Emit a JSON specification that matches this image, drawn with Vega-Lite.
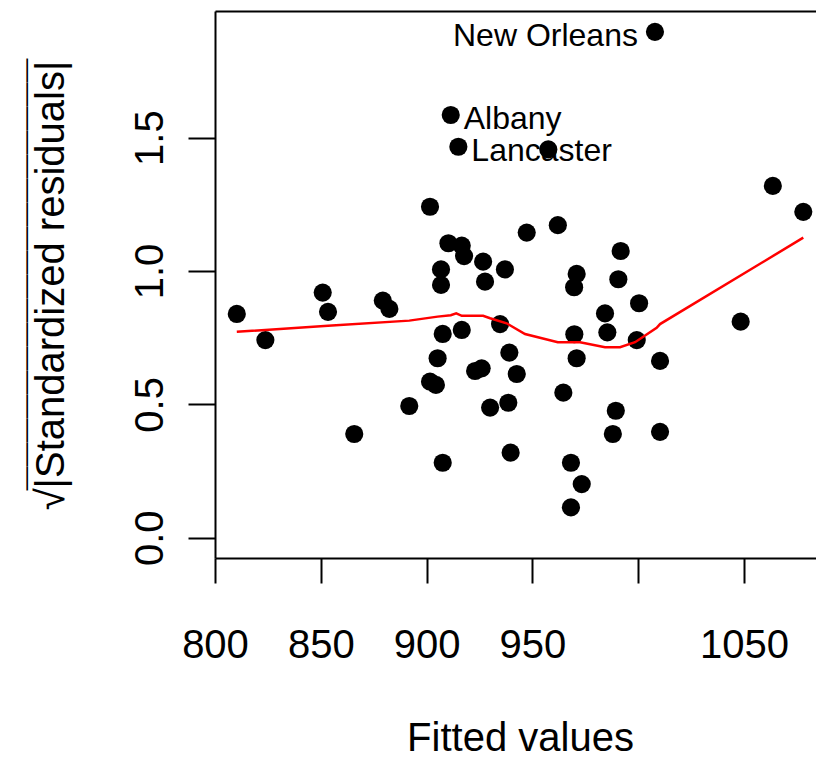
{
  "$schema": "https://vega.github.io/schema/vega-lite/v6.json",
  "width": 601,
  "height": 547,
  "autosize": {"type": "none"},
  "padding": {"left": 215, "top": 11, "right": 0, "bottom": 200},
  "background": "white",
  "config": {
    "view": {"stroke": null},
    "font": "Liberation Sans",
    "axis": {
      "grid": false,
      "domainColor": "black",
      "domainWidth": 2,
      "tickColor": "black",
      "tickWidth": 2,
      "labelColor": "black",
      "labelFont": "Liberation Sans",
      "labelFontSize": 40,
      "titleFont": "Liberation Sans",
      "titleFontSize": 40,
      "titleFontWeight": "normal",
      "titleColor": "black",
      "labelOverlap": false,
      "labelFlush": false
    }
  },
  "title": {
    "text": "——————————————————",
    "orient": "left",
    "frame": "group",
    "anchor": "middle",
    "font": "Liberation Sans",
    "fontSize": 24,
    "fontWeight": "normal",
    "color": "black",
    "baseline": "alphabetic",
    "offset": -26,
    "dx": 10
  },
  "datasets": {
    "points": [
      {"fitted": 810.3, "sqrt_abs_std_resid": 0.839, "label": null},
      {"fitted": 823.8, "sqrt_abs_std_resid": 0.741, "label": null},
      {"fitted": 850.9, "sqrt_abs_std_resid": 0.919, "label": null},
      {"fitted": 853.4, "sqrt_abs_std_resid": 0.847, "label": null},
      {"fitted": 865.8, "sqrt_abs_std_resid": 0.389, "label": null},
      {"fitted": 879.3, "sqrt_abs_std_resid": 0.889, "label": null},
      {"fitted": 882.4, "sqrt_abs_std_resid": 0.858, "label": null},
      {"fitted": 891.8, "sqrt_abs_std_resid": 0.494, "label": null},
      {"fitted": 901.6, "sqrt_abs_std_resid": 1.241, "label": null},
      {"fitted": 901.6, "sqrt_abs_std_resid": 0.585, "label": null},
      {"fitted": 904.4, "sqrt_abs_std_resid": 0.573, "label": null},
      {"fitted": 905.2, "sqrt_abs_std_resid": 0.673, "label": null},
      {"fitted": 906.8, "sqrt_abs_std_resid": 1.006, "label": null},
      {"fitted": 906.8, "sqrt_abs_std_resid": 0.948, "label": null},
      {"fitted": 907.6, "sqrt_abs_std_resid": 0.764, "label": null},
      {"fitted": 907.6, "sqrt_abs_std_resid": 0.281, "label": null},
      {"fitted": 910.3, "sqrt_abs_std_resid": 1.104, "label": null},
      {"fitted": 911.4, "sqrt_abs_std_resid": 1.585, "label": "Albany"},
      {"fitted": 915.0, "sqrt_abs_std_resid": 1.466, "label": "Lancaster"},
      {"fitted": 916.6, "sqrt_abs_std_resid": 1.095, "label": null},
      {"fitted": 917.7, "sqrt_abs_std_resid": 1.056, "label": null},
      {"fitted": 916.6, "sqrt_abs_std_resid": 0.779, "label": null},
      {"fitted": 922.9, "sqrt_abs_std_resid": 0.625, "label": null},
      {"fitted": 926.0, "sqrt_abs_std_resid": 0.635, "label": null},
      {"fitted": 926.7, "sqrt_abs_std_resid": 1.035, "label": null},
      {"fitted": 927.6, "sqrt_abs_std_resid": 0.960, "label": null},
      {"fitted": 930.0, "sqrt_abs_std_resid": 0.488, "label": null},
      {"fitted": 934.7, "sqrt_abs_std_resid": 0.801, "label": null},
      {"fitted": 937.0, "sqrt_abs_std_resid": 1.006, "label": null},
      {"fitted": 939.1, "sqrt_abs_std_resid": 0.694, "label": null},
      {"fitted": 938.6, "sqrt_abs_std_resid": 0.506, "label": null},
      {"fitted": 939.7, "sqrt_abs_std_resid": 0.319, "label": null},
      {"fitted": 942.6, "sqrt_abs_std_resid": 0.614, "label": null},
      {"fitted": 947.3, "sqrt_abs_std_resid": 1.144, "label": null},
      {"fitted": 957.5, "sqrt_abs_std_resid": 1.456, "label": null},
      {"fitted": 962.0, "sqrt_abs_std_resid": 1.172, "label": null},
      {"fitted": 964.6, "sqrt_abs_std_resid": 0.544, "label": null},
      {"fitted": 968.2, "sqrt_abs_std_resid": 0.281, "label": null},
      {"fitted": 968.2, "sqrt_abs_std_resid": 0.114, "label": null},
      {"fitted": 969.7, "sqrt_abs_std_resid": 0.939, "label": null},
      {"fitted": 969.8, "sqrt_abs_std_resid": 0.763, "label": null},
      {"fitted": 970.9, "sqrt_abs_std_resid": 0.989, "label": null},
      {"fitted": 970.9, "sqrt_abs_std_resid": 0.673, "label": null},
      {"fitted": 973.3, "sqrt_abs_std_resid": 0.201, "label": null},
      {"fitted": 984.3, "sqrt_abs_std_resid": 0.841, "label": null},
      {"fitted": 985.4, "sqrt_abs_std_resid": 0.770, "label": null},
      {"fitted": 988.0, "sqrt_abs_std_resid": 0.389, "label": null},
      {"fitted": 989.4, "sqrt_abs_std_resid": 0.476, "label": null},
      {"fitted": 990.6, "sqrt_abs_std_resid": 0.969, "label": null},
      {"fitted": 991.7, "sqrt_abs_std_resid": 1.075, "label": null},
      {"fitted": 999.3, "sqrt_abs_std_resid": 0.741, "label": null},
      {"fitted": 1000.4, "sqrt_abs_std_resid": 0.879, "label": null},
      {"fitted": 1007.9, "sqrt_abs_std_resid": 1.897, "label": "New Orleans"},
      {"fitted": 1010.3, "sqrt_abs_std_resid": 0.663, "label": null},
      {"fitted": 1010.3, "sqrt_abs_std_resid": 0.397, "label": null},
      {"fitted": 1048.4, "sqrt_abs_std_resid": 0.810, "label": null},
      {"fitted": 1063.6, "sqrt_abs_std_resid": 1.319, "label": null},
      {"fitted": 1078.0, "sqrt_abs_std_resid": 1.222, "label": null}
    ],
    "smooth": [
      {"fitted": 810.3, "sqrt_abs_std_resid": 0.772},
      {"fitted": 853.4, "sqrt_abs_std_resid": 0.795},
      {"fitted": 891.8, "sqrt_abs_std_resid": 0.814},
      {"fitted": 905.2, "sqrt_abs_std_resid": 0.829},
      {"fitted": 911.4, "sqrt_abs_std_resid": 0.834},
      {"fitted": 914.0, "sqrt_abs_std_resid": 0.841},
      {"fitted": 916.6, "sqrt_abs_std_resid": 0.832},
      {"fitted": 926.7, "sqrt_abs_std_resid": 0.832},
      {"fitted": 930.0, "sqrt_abs_std_resid": 0.823},
      {"fitted": 937.8, "sqrt_abs_std_resid": 0.804},
      {"fitted": 946.5, "sqrt_abs_std_resid": 0.764},
      {"fitted": 962.0, "sqrt_abs_std_resid": 0.733},
      {"fitted": 972.5, "sqrt_abs_std_resid": 0.733},
      {"fitted": 984.3, "sqrt_abs_std_resid": 0.714},
      {"fitted": 991.4, "sqrt_abs_std_resid": 0.714},
      {"fitted": 998.5, "sqrt_abs_std_resid": 0.733},
      {"fitted": 1008.7, "sqrt_abs_std_resid": 0.787},
      {"fitted": 1010.3, "sqrt_abs_std_resid": 0.801},
      {"fitted": 1078.0, "sqrt_abs_std_resid": 1.125}
    ]
  },
  "resolve": {"axis": {"x": "independent", "y": "independent"}},
  "layer": [
    {
      "data": {"name": "points"},
      "mark": {"type": "circle", "color": "black", "opacity": 1, "size": 330, "strokeWidth": 0},
      "encoding": {
        "x": {
          "field": "fitted", "type": "quantitative",
          "scale": {"domain": [800, 1084], "nice": false, "zero": false},
          "axis": {
            "orient": "bottom",
            "values": [800, 850, 900, 950, 1000, 1050],
            "labelExpr": "datum.value == 1000 ? '' : datum.label",
            "format": "d",
            "tickSize": 25,
            "labelPadding": 42,
            "labelBaseline": "top",
            "labelAlign": "center",
            "title": "Fitted values",
            "titleX": 305,
            "titleY": 192,
            "titleBaseline": "alphabetic",
            "titleAlign": "center"
          }
        },
        "y": {
          "field": "sqrt_abs_std_resid", "type": "quantitative",
          "scale": {"domain": [-0.0761, 1.975], "nice": false, "zero": false},
          "axis": {
            "orient": "left",
            "values": [0, 0.5, 1, 1.5],
            "format": ".1f",
            "tickSize": 27,
            "labelPadding": 26,
            "labelAngle": -90,
            "labelAlign": "center",
            "labelBaseline": "alphabetic",
            "title": "√|Standardized residuals|",
            "titleAngle": -90,
            "titleX": -152,
            "titleY": 274,
            "titleAlign": "center",
            "titleBaseline": "alphabetic"
          }
        }
      }
    },
    {
      "data": {"name": "points"},
      "transform": [{"filter": "datum.label == 'Albany' || datum.label == 'Lancaster'"}],
      "mark": {"type": "text", "align": "left", "baseline": "middle", "dx": 13, "dy": 4, "font": "Liberation Sans", "fontSize": 32, "color": "black"},
      "encoding": {
        "x": {"field": "fitted", "type": "quantitative", "axis": null},
        "y": {"field": "sqrt_abs_std_resid", "type": "quantitative", "axis": null},
        "text": {"field": "label"}
      }
    },
    {
      "data": {"name": "points"},
      "transform": [{"filter": "datum.label == 'New Orleans'"}],
      "mark": {"type": "text", "align": "right", "baseline": "middle", "dx": -17, "dy": 4, "font": "Liberation Sans", "fontSize": 32, "color": "black"},
      "encoding": {
        "x": {"field": "fitted", "type": "quantitative", "axis": null},
        "y": {"field": "sqrt_abs_std_resid", "type": "quantitative", "axis": null},
        "text": {"field": "label"}
      }
    },
    {
      "data": {"name": "smooth"},
      "mark": {"type": "line", "color": "#ff0000", "strokeWidth": 2.5},
      "encoding": {
        "x": {
          "field": "fitted", "type": "quantitative",
          "axis": {"orient": "top", "labels": false, "ticks": false, "title": null, "domain": true}
        },
        "y": {"field": "sqrt_abs_std_resid", "type": "quantitative", "axis": null}
      }
    }
  ]
}
